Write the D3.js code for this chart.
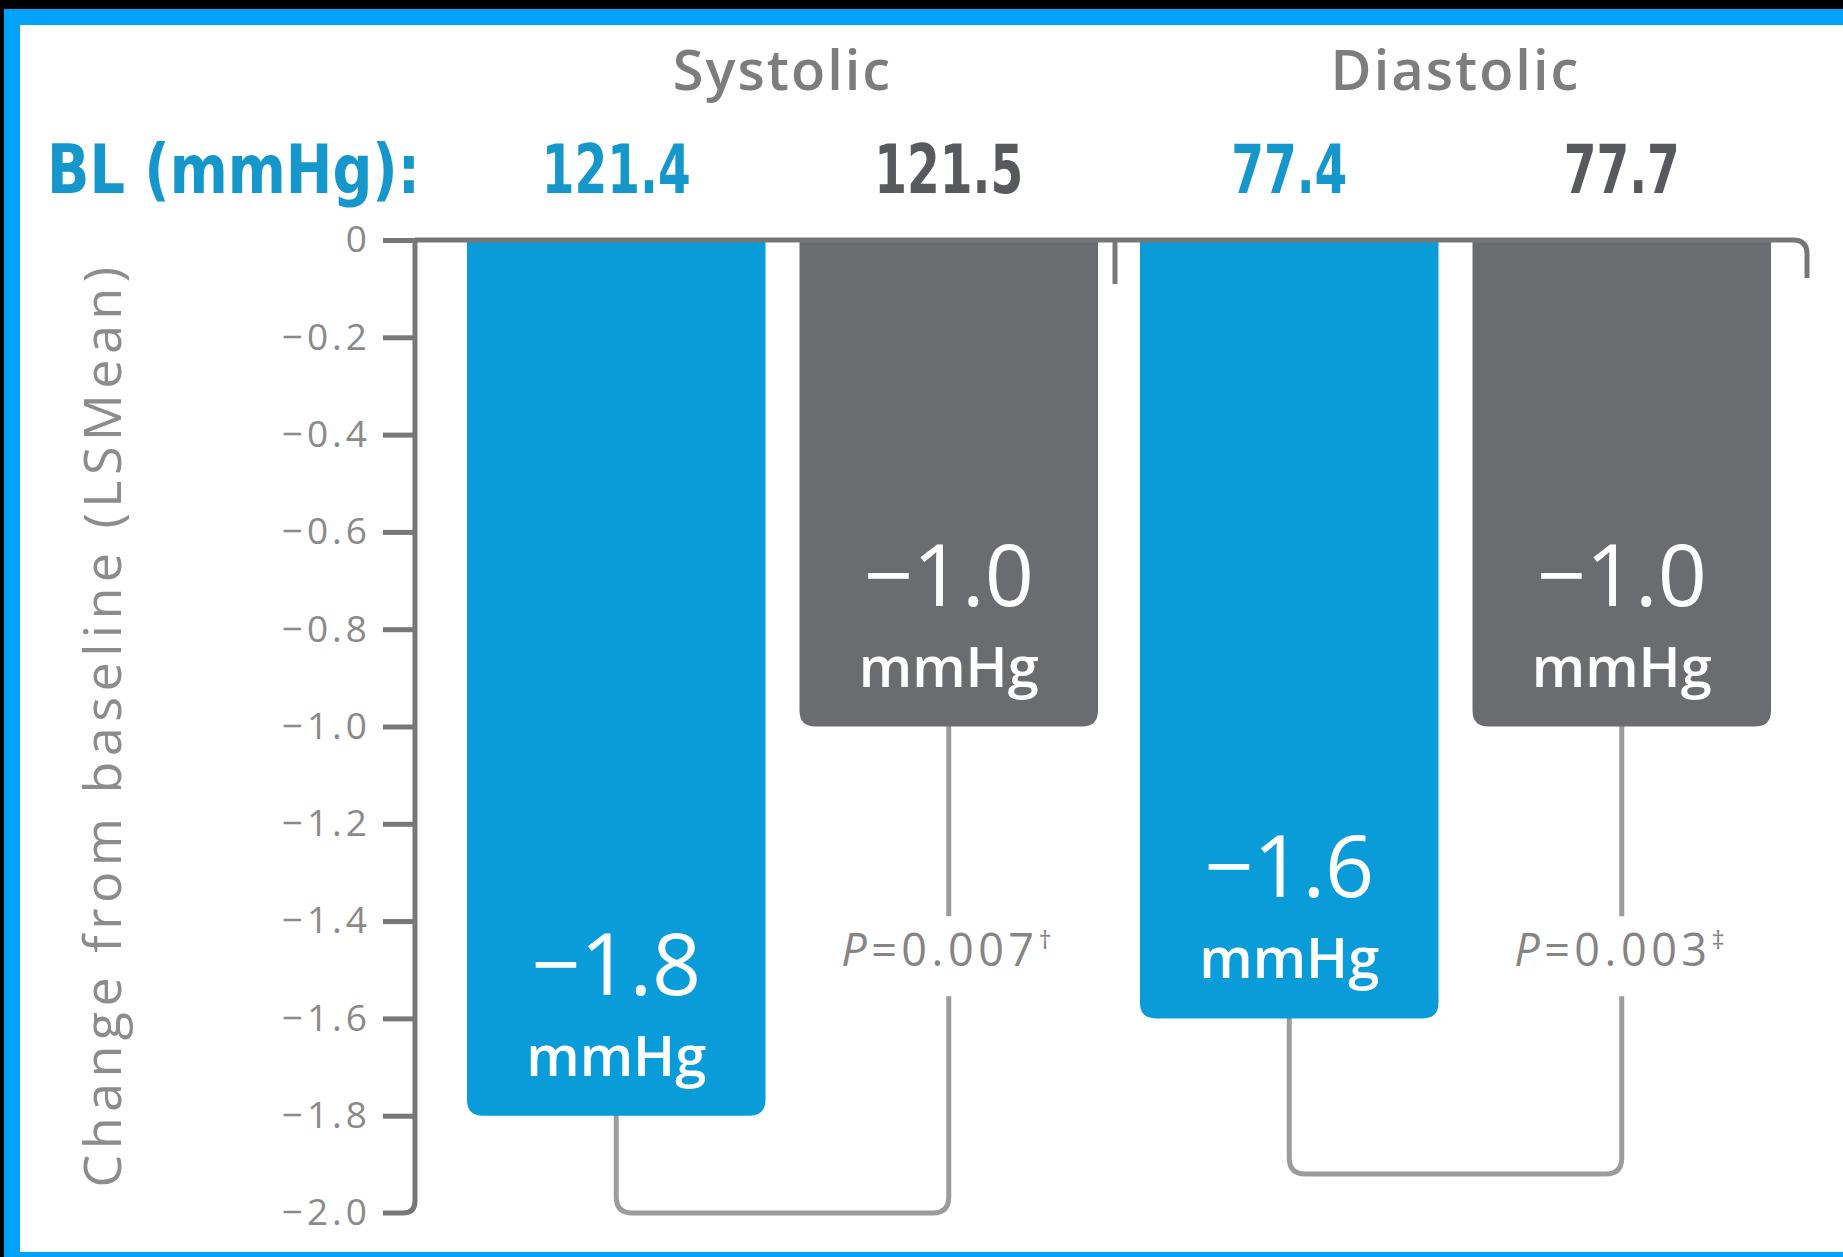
<!DOCTYPE html>
<html>
<head>
<meta charset="utf-8">
<script src="https://cdn.jsdelivr.net/npm/d3@7"></script>
<style>
  html, body { margin: 0; padding: 0; background: #000; overflow: hidden; }
  text { font-family: "Open Sans", "Noto Sans", sans-serif; }
</style>
</head>
<body>
<svg id="chart" width="1843" height="1257"></svg>
<script>
// ---- data ----
const groups = ["Systolic", "Diastolic"];
const arms = ["treatment", "control"];
const baselineValues = [121.4, 121.5, 77.4, 77.7];   // BL (mmHg), group-major order
const changeValues = [-1.8, -1.0, -1.6, -1.0];       // LS mean change from baseline
const pValues = ["0.007", "0.003"];
const pMarks = ["\u2020", "\u2021"];
const bracketLevels = [-2.0, -1.92];                // depth of each comparison bracket
const pLabelLevel = -1.46;
const yTicks = [0, -0.2, -0.4, -0.6, -0.8, -1.0, -1.2, -1.4, -1.6, -1.8, -2.0];
const unitLabel = "mmHg";
const baselineTitle = "BL (mmHg):";
const yTitle = "Change from baseline (LSMean)";

// ---- palette ----
const armColor = { treatment: "#0a9bd9", control: "#6b6c70" };
const blColor = { treatment: "#1597cc", control: "#58595c" };
const axisColor = "#777";
const bracketColor = "#9c9c9c";

const W = 1843, H = 1257;
const svg = d3.select("#chart");

// frame: black page, blue border, white panel
svg.append("rect").attr("width", W).attr("height", H).attr("fill", "#000");
svg.append("rect").attr("x", 4).attr("y", 9).attr("width", W - 4).attr("height", H - 9).attr("fill", "#00a2fb");
svg.append("rect").attr("x", 20).attr("y", 25).attr("width", W - 20).attr("height", 1227).attr("fill", "#fff");

const bars = [];
groups.forEach((g, gi) => arms.forEach((a, ai) => {
  const i = gi * arms.length + ai;
  bars.push({ group: g, gi, arm: a, baseline: baselineValues[i], change: changeValues[i] });
}));

const y = d3.scaleLinear().domain([0, -2]).range([240, 1213]);
const xGroup = d3.scaleBand().domain(groups).range([467, 1771]).paddingInner(0.0624).paddingOuter(0);
const xArm = d3.scaleBand().domain(arms).range([0, xGroup.bandwidth()]).paddingInner(0.1023).paddingOuter(0);
const bw = xArm.bandwidth();
const bx = d => xGroup(d.group) + xArm(d.arm);
const cx = d => bx(d) + bw / 2;

const fmt = v => v === 0 ? "0" : (v < 0 ? "\u2212" : "") + d3.format(".1f")(Math.abs(v));

// ---- comparison brackets (behind bars) ----
const pGroup = svg.append("g");
groups.forEach((g, gi) => {
  const L = bars[gi * 2], R = bars[gi * 2 + 1];
  const lx = cx(L), rx = cx(R), yb = y(bracketLevels[gi]), r = 16;
  const py = y(pLabelLevel);
  const gapTop = py - 34, gapBottom = py + 46;
  pGroup.append("path")
    .attr("d", `M${lx},${y(L.change) - 10}V${yb - r}Q${lx},${yb} ${lx + r},${yb}H${rx - r}Q${rx},${yb} ${rx},${yb - r}V${gapBottom}`)
    .attr("fill", "none").attr("stroke", bracketColor).attr("stroke-width", 5);
  pGroup.append("path")
    .attr("d", `M${rx},${gapTop}V${y(R.change) - 10}`)
    .attr("fill", "none").attr("stroke", bracketColor).attr("stroke-width", 5);
  const t = pGroup.append("text")
    .attr("x", rx).attr("y", py + 16)
    .attr("text-anchor", "middle")
    .attr("fill", "#858585")
    .style("font-size", "45px")
    .attr("letter-spacing", 4.5);
  t.append("tspan").style("font-style", "italic").text("P");
  t.append("tspan").text("=" + pValues[gi]);
  t.append("tspan").attr("dy", -17).style("font-size", "26px").text(pMarks[gi]);
});

// ---- bars with rounded bottom corners ----
function barPath(x0, y0, w, y1, r) {
  return `M${x0},${y0}H${x0 + w}V${y1 - r}Q${x0 + w},${y1} ${x0 + w - r},${y1}H${x0 + r}Q${x0},${y1} ${x0},${y1 - r}Z`;
}
svg.append("g").selectAll("path").data(bars).join("path")
  .attr("d", d => barPath(bx(d), y(0), bw, y(d.change), 16))
  .attr("fill", d => armColor[d.arm]);

// value labels inside bars
const lab = svg.append("g").attr("fill", "#fff").attr("text-anchor", "middle");
lab.selectAll("text.val").data(bars).join("text").attr("class", "val")
  .attr("x", d => cx(d)).attr("y", d => y(d.change) - 121)
  .style("font-size", "86px").style("font-weight", 500)
  .text(d => fmt(d.change));
lab.selectAll("text.unit").data(bars).join("text").attr("class", "unit")
  .attr("x", d => cx(d)).attr("y", d => y(d.change) - 40)
  .style("font-size", "56px").style("font-weight", 600)
  .text(unitLabel);

// ---- y axis ----
const axisX = 415, tickLen = 32;
const gAxis = svg.append("g").attr("transform", `translate(${axisX},0)`)
  .call(d3.axisLeft(y).tickValues(yTicks).tickSize(tickLen).tickPadding(12).tickFormat(fmt));
gAxis.select(".domain").remove();
gAxis.selectAll(".tick line").attr("stroke", axisColor).attr("stroke-width", 5)
  .filter(d => d === yTicks[yTicks.length - 1]).remove();
gAxis.selectAll(".tick text")
  .attr("fill", "#8a8a8a")
  .style("font-family", "'Open Sans', sans-serif")
  .style("font-size", "37px")
  .style("font-weight", 500)
  .attr("letter-spacing", 4);

// axis spine with rounded foot into the last tick
const yEnd = y(yTicks[yTicks.length - 1]), rr = 12;
svg.append("path")
  .attr("d", `M${axisX},${y(0)}V${yEnd - rr}Q${axisX},${yEnd} ${axisX - rr},${yEnd}H${axisX - tickLen}`)
  .attr("fill", "none").attr("stroke", axisColor).attr("stroke-width", 5);

// zero line across the top of the bars, separator between groups, rounded right end
const lastEnd = xGroup.range()[1];
const endX = lastEnd + 36, re = 14;
svg.append("path")
  .attr("d", `M${axisX},${y(0)}H${endX - re}Q${endX},${y(0)} ${endX},${y(0) + re}V${y(0) + 38}`)
  .attr("fill", "none").attr("stroke", axisColor).attr("stroke-width", 5);
const sepX = (xGroup(groups[0]) + xGroup.bandwidth() + xGroup(groups[1])) / 2 - 4;
svg.append("line")
  .attr("x1", sepX).attr("x2", sepX).attr("y1", y(0)).attr("y2", y(0) + 44)
  .attr("stroke", axisColor).attr("stroke-width", 5);

// y axis title
svg.append("text")
  .attr("transform", `translate(121,${(y(0) + y(-2)) / 2 - 2}) rotate(-90)`)
  .attr("text-anchor", "middle")
  .attr("fill", "#8c8c8c")
  .style("font-size", "52px").style("font-weight", 500)
  .attr("letter-spacing", 5.5)
  .text(yTitle);

// ---- group titles ----
svg.append("g").selectAll("text").data(groups).join("text")
  .attr("x", g => xGroup(g) + xGroup.bandwidth() / 2)
  .attr("y", 90)
  .attr("text-anchor", "middle")
  .attr("fill", "#7d7d7d")
  .style("font-size", "56px").style("font-weight", 600)
  .attr("letter-spacing", 2)
  .text(d => d);

// ---- baseline row (condensed bold) ----
const blFont = "'Liberation Sans Narrow', 'DejaVu Sans Condensed', 'Arial Narrow', sans-serif";
const squeeze = 0.77;
svg.append("text")
  .attr("x", 47).attr("y", 193)
  .attr("fill", blColor.treatment)
  .style("font-family", blFont).style("font-size", "68px").style("font-weight", 700)
  .attr("textLength", 373).attr("lengthAdjust", "spacingAndGlyphs")
  .text(baselineTitle);
svg.append("g").selectAll("text").data(bars).join("text")
  .attr("x", d => cx(d)).attr("y", 193)
  .attr("text-anchor", "middle")
  .attr("fill", d => blColor[d.arm])
  .style("font-family", blFont).style("font-size", "68px").style("font-weight", 700)
  .text(d => d.baseline.toFixed(1))
  .each(function () {
    const w = this.getComputedTextLength();
    d3.select(this).attr("textLength", w * squeeze).attr("lengthAdjust", "spacingAndGlyphs");
  });
</script>
</body>
</html>
